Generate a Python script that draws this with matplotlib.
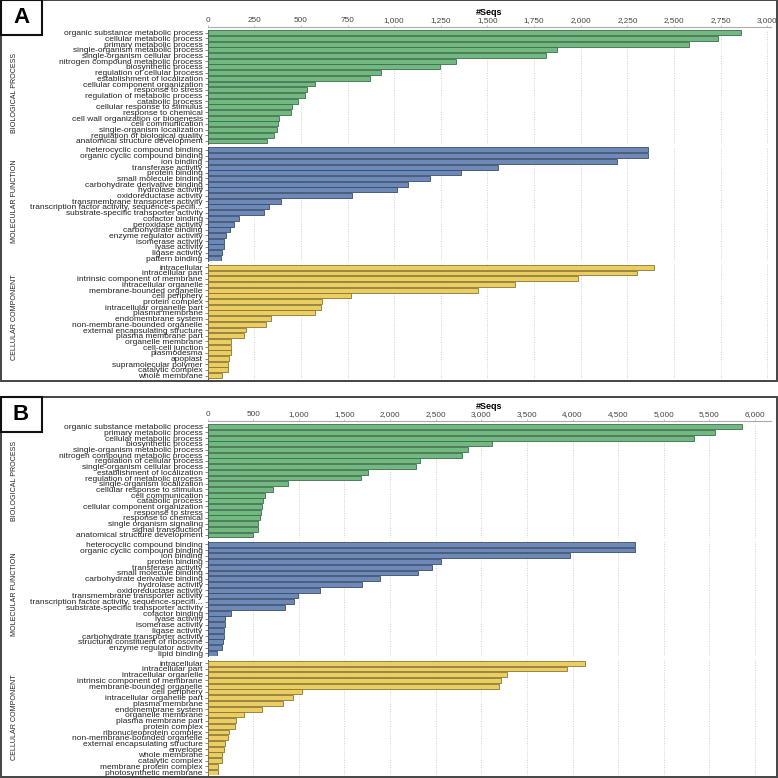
import matplotlib
matplotlib.use('Agg')
import matplotlib.pyplot as plt
from matplotlib.patches import Rectangle
from matplotlib.ticker import MultipleLocator, FuncFormatter

W = H = 778
FONT = ['Liberation Sans Narrow', 'Liberation Sans', 'DejaVu Sans']
FONT_W = ['Liberation Sans', 'DejaVu Sans']

# ---------------- Panel A data ----------------
a_bp_labels = ["organic substance metabolic process", "cellular metabolic process",
               "primary metabolic process", "single-organism metabolic process",
               "single-organism cellular process", "nitrogen compound metabolic process",
               "biosynthetic process", "regulation of cellular process",
               "establishment of localization", "cellular component organization",
               "response to stress", "regulation of metabolic process", "catabolic process",
               "cellular response to stimulus", "response to chemical",
               "cell wall organization or biogenesis", "cell communication",
               "single-organism localization", "regulation of biological quality",
               "anatomical structure development"]
a_bp_values = [2861, 2738, 2580, 1875, 1813, 1332, 1248, 932, 870, 577,
               534, 520, 484, 454, 445, 384, 375, 370, 356, 317]

a_mf_labels = ["heterocyclic compound binding", "organic cyclic compound binding", "ion binding",
               "transferase activity", "protein binding", "small molecule binding",
               "carbohydrate derivative binding", "hydrolase activity", "oxidoreductase activity",
               "transmembrane transporter activity",
               "transcription factor activity, sequence-specifi...",
               "substrate-specific transporter activity", "cofactor binding",
               "peroxidase activity", "carbohydrate binding", "enzyme regulator activity",
               "isomerase activity", "lyase activity", "ligase activity", "pattern binding"]
a_mf_values = [2363, 2362, 2197, 1559, 1356, 1190, 1073, 1014, 773, 391,
               331, 300, 168, 143, 120, 100, 88, 86, 79, 70]

a_cc_labels = ["intracellular", "intracellular part", "intrinsic component of membrane",
               "intracellular organelle", "membrane-bounded organelle", "cell periphery",
               "protein complex", "intracellular organelle part", "plasma membrane",
               "endomembrane system", "non-membrane-bounded organelle",
               "external encapsulating structure", "plasma membrane part", "organelle membrane",
               "cell-cell junction", "plasmodesma", "apoplast", "supramolecular polymer",
               "catalytic complex", "whole membrane"]
a_cc_values = [2393, 2302, 1984, 1648, 1448, 768, 611, 609, 577, 338,
               311, 204, 197, 127, 125, 124, 116, 111, 111, 79]

# ---------------- Panel B data ----------------
b_bp_labels = ["organic substance metabolic process", "primary metabolic process",
               "cellular metabolic process", "biosynthetic process",
               "single-organism metabolic process", "nitrogen compound metabolic process",
               "regulation of cellular process", "single-organism cellular process",
               "establishment of localization", "regulation of metabolic process",
               "single-organism localization", "cellular response to stimulus",
               "cell communication", "catabolic process", "cellular component organization",
               "response to stress", "response to chemical", "single organism signaling",
               "signal transduction", "anatomical structure development"]
b_bp_values = [5856, 5560, 5330, 3115, 2852, 2786, 2326, 2289, 1755, 1682,
               878, 714, 626, 611, 596, 589, 578, 553, 549, 498]

b_mf_labels = ["heterocyclic compound binding", "organic cyclic compound binding", "ion binding",
               "protein binding", "transferase activity", "small molecule binding",
               "carbohydrate derivative binding", "hydrolase activity", "oxidoreductase activity",
               "transmembrane transporter activity",
               "transcription factor activity, sequence-specifi...",
               "substrate-specific transporter activity", "cofactor binding", "lyase activity",
               "isomerase activity", "ligase activity", "carbohydrate transporter activity",
               "structural constituent of ribosome", "enzyme regulator activity", "lipid binding"]
b_mf_values = [4683, 4682, 3970, 2559, 2461, 2304, 1890, 1690, 1229, 991,
               944, 852, 260, 194, 193, 180, 176, 172, 155, 106]

b_cc_labels = ["intracellular", "intracellular part", "intracellular organelle",
               "intrinsic component of membrane", "membrane-bounded organelle", "cell periphery",
               "intracellular organelle part", "plasma membrane", "endomembrane system",
               "organelle membrane", "plasma membrane part", "protein complex",
               "ribonucleoprotein complex", "non-membrane-bounded organelle",
               "external encapsulating structure", "envelope", "whole membrane",
               "catalytic complex", "membrane protein complex", "photosynthetic membrane"]
b_cc_values = [4142, 3944, 3279, 3214, 3192, 1039, 940, 830, 593, 396,
               315, 304, 238, 220, 187, 176, 158, 155, 114, 113]

section_names = ["BIOLOGICAL PROCESS", "MOLECULAR FUNCTION", "CELLULAR COMPONENT"]
colors = ["#71b981", "#6d89b8", "#ebcd62"]
edges = ["#3d6e4a", "#3a4b6b", "#8a7630"]

fig = plt.figure(figsize=(7.78, 7.78), dpi=100)
fig.patch.set_facecolor('white')


def add_ax(x0, y0, x1, y1):
    return fig.add_axes([x0 / W, 1 - y1 / H, (x1 - x0) / W, (y1 - y0) / H])


def section(ax, labels, values, color, edge, xmax, step, top):
    y = list(range(len(labels)))
    ax.barh(y, values, height=0.86, color=color, edgecolor=edge, linewidth=0.6, zorder=3)
    ax.set_ylim(len(labels) - 0.5, -0.5)
    ax.set_xlim(0, xmax)
    ax.set_yticks(y)
    ax.set_yticklabels(labels, fontsize=6.0, family=FONT, color='#222222')
    ax.xaxis.set_major_locator(MultipleLocator(step))
    ax.grid(axis='x', linestyle=(0, (1, 1.5)), color='#d0d0d0', linewidth=0.7, zorder=0)
    ax.set_axisbelow(True)
    for s in ['right', 'bottom', 'top']:
        ax.spines[s].set_visible(False)
    ax.spines['left'].set_color('#555555')
    ax.spines['left'].set_linewidth(0.7)
    ax.tick_params(axis='y', length=2, width=0.5, pad=1.5, color='#555555')
    if top:
        ax.xaxis.tick_top()
        ax.spines['top'].set_visible(True)
        ax.spines['top'].set_position(('outward', 2))
        ax.spines['top'].set_color('#aaaaaa')
        ax.spines['top'].set_linewidth(0.8)
        ax.xaxis.set_major_formatter(FuncFormatter(lambda v, p: f"{int(v):,}"))
        ax.tick_params(axis='x', length=1.2, width=0.5, color='#aaaaaa', pad=0.8,
                       labelsize=5.9, labelcolor='#444444')
        for t in ax.get_xticklabels():
            t.set_family(FONT_W)
        ax.xaxis.set_label_position('top')
        ax.set_xlabel('#Seqs', fontsize=6.5, fontweight='bold', family=FONT_W, labelpad=1.5)
    else:
        ax.tick_params(axis='x', which='both', length=0, labelbottom=False, labeltop=False)


def panel(letter, y_top, y_bot, sec_bounds, label_centers, data, xmax, step):
    # border
    fig.patches.append(Rectangle((0.8 / W, 1 - y_bot / H), (776.5 - 0.8) / W, (y_bot - y_top) / H,
                                 transform=fig.transFigure, fill=False, edgecolor='#444444',
                                 linewidth=1.4, zorder=0))
    # letter box
    fig.patches.append(Rectangle((0.8 / W, 1 - (y_top + 35) / H), 41 / W, 35 / H,
                                 transform=fig.transFigure, facecolor='white', edgecolor='#111111',
                                 linewidth=1.5, zorder=5))
    fig.text(21 / W, 1 - (y_top + 17.5) / H, letter, ha='center', va='center', fontsize=16,
             fontweight='bold', family=FONT_W, zorder=6)
    for i, ((t, b), (labels, values)) in enumerate(zip(sec_bounds, data)):
        ax = add_ax(207.6, t, 771, b)
        section(ax, labels, values, colors[i], edges[i], xmax, step, top=(i == 0))
        fig.text(14.5 / W, 1 - label_centers[i] / H, section_names[i], rotation=90, ha='center',
                 va='center', fontsize=5.1, family=FONT, color='#222222')


panel('A', 0, 380.5,
      [(29.9, 143.8), (147.1, 261.1), (264.4, 378.5)],
      [93, 201, 317],
      [(a_bp_labels, a_bp_values), (a_mf_labels, a_mf_values), (a_cc_labels, a_cc_values)],
      3000 * (771 - 207.6) / (767.3 - 207.6), 250)

panel('B', 396.7, 777,
      [(423.9, 537.8), (541.4, 656.2), (660.4, 775.0)],
      [481, 594, 717],
      [(b_bp_labels, b_bp_values), (b_mf_labels, b_mf_values), (b_cc_labels, b_cc_values)],
      6000 * (771 - 207.6) / (755 - 207.6), 500)

fig.savefig('out.png', dpi=100, facecolor='white')
